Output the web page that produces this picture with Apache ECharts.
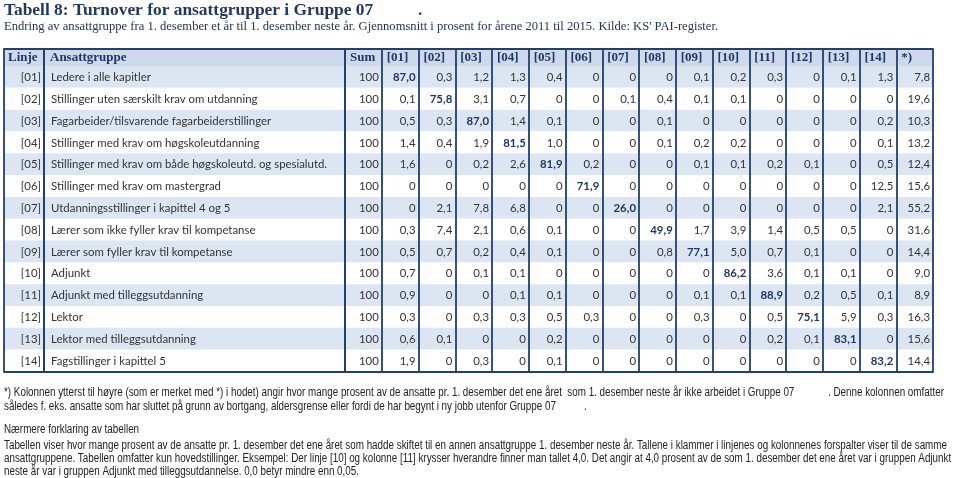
<!DOCTYPE html>
<html><head><meta charset="utf-8">
<script src="https://cdn.jsdelivr.net/npm/echarts@6/dist/echarts.min.js"></script>
<style>html,body{margin:0;padding:0;background:#fff}#c{width:960px;height:478px}</style>
</head><body><div id="c"></div>
<script>
// ---------- data ----------
const titleText = 'Tabell 8: Turnover for ansattgrupper i Gruppe 07';
const titleDot = '.';
const subtitleText = 'Endring av ansattgruppe fra 1. desember et år til 1. desember neste år. Gjennomsnitt i prosent for årene 2011 til 2015. Kilde: KS\' PAI-register.';
const headLinje = 'Linje';
const headGroup = 'Ansattgruppe';
const colHeaders = ['Sum', '[01]', '[02]', '[03]', '[04]', '[05]', '[06]', '[07]', '[08]', '[09]', '[10]', '[11]', '[12]', '[13]', '[14]', '*)'];
const lineCodes = ['[01]', '[02]', '[03]', '[04]', '[05]', '[06]', '[07]', '[08]', '[09]', '[10]', '[11]', '[12]', '[13]', '[14]'];
const groupNames = [
  'Ledere i alle kapitler',
  'Stillinger uten særskilt krav om utdanning',
  'Fagarbeider/tilsvarende fagarbeiderstillinger',
  'Stillinger med krav om høgskoleutdanning',
  'Stillinger med krav om både høgskoleutd. og spesialutd.',
  'Stillinger med krav om mastergrad',
  'Utdanningsstillinger i kapittel 4 og 5',
  'Lærer som ikke fyller krav til kompetanse',
  'Lærer som fyller krav til kompetanse',
  'Adjunkt',
  'Adjunkt med tilleggsutdanning',
  'Lektor',
  'Lektor med tilleggsutdanning',
  'Fagstillinger i kapittel 5'
];
// columns: Sum, [01]..[14], *)
const row01 = [100, 87.0, 0.3, 1.2, 1.3, 0.4, 0, 0, 0, 0.1, 0.2, 0.3, 0, 0.1, 1.3, 7.8];
const row02 = [100, 0.1, 75.8, 3.1, 0.7, 0, 0, 0.1, 0.4, 0.1, 0.1, 0, 0, 0, 0, 19.6];
const row03 = [100, 0.5, 0.3, 87.0, 1.4, 0.1, 0, 0, 0.1, 0, 0, 0, 0, 0, 0.2, 10.3];
const row04 = [100, 1.4, 0.4, 1.9, 81.5, 1.0, 0, 0, 0.1, 0.2, 0.2, 0, 0, 0, 0.1, 13.2];
const row05 = [100, 1.6, 0, 0.2, 2.6, 81.9, 0.2, 0, 0, 0.1, 0.1, 0.2, 0.1, 0, 0.5, 12.4];
const row06 = [100, 0, 0, 0, 0, 0, 71.9, 0, 0, 0, 0, 0, 0, 0, 12.5, 15.6];
const row07 = [100, 0, 2.1, 7.8, 6.8, 0, 0, 26.0, 0, 0, 0, 0, 0, 0, 2.1, 55.2];
const row08 = [100, 0.3, 7.4, 2.1, 0.6, 0.1, 0, 0, 49.9, 1.7, 3.9, 1.4, 0.5, 0.5, 0, 31.6];
const row09 = [100, 0.5, 0.7, 0.2, 0.4, 0.1, 0, 0, 0.8, 77.1, 5.0, 0.7, 0.1, 0, 0, 14.4];
const row10 = [100, 0.7, 0, 0.1, 0.1, 0, 0, 0, 0, 0, 86.2, 3.6, 0.1, 0.1, 0, 9.0];
const row11 = [100, 0.9, 0, 0, 0.1, 0.1, 0, 0, 0, 0.1, 0.1, 88.9, 0.2, 0.5, 0.1, 8.9];
const row12 = [100, 0.3, 0, 0.3, 0.3, 0.5, 0.3, 0, 0, 0.3, 0, 0.5, 75.1, 5.9, 0.3, 16.3];
const row13 = [100, 0.6, 0.1, 0, 0, 0.2, 0, 0, 0, 0, 0, 0.2, 0.1, 83.1, 0, 15.6];
const row14 = [100, 1.9, 0, 0.3, 0, 0.1, 0, 0, 0, 0, 0, 0, 0, 0, 83.2, 14.4];
const rowsData = [row01, row02, row03, row04, row05, row06, row07, row08, row09, row10, row11, row12, row13, row14];

const note1a = '*) Kolonnen ytterst til høyre (som er merket med *) i hodet) angir hvor mange prosent av de ansatte pr. 1. desember det ene året  som 1. desember neste år ikke arbeidet i Gruppe 07';
const note1b = '. Denne kolonnen omfatter';
const note2a = 'således f. eks. ansatte som har sluttet på grunn av bortgang, aldersgrense eller fordi de har begynt i ny jobb utenfor Gruppe 07';
const note2b = '.';
const note3 = 'Nærmere forklaring av tabellen';
const note4 = 'Tabellen viser hvor mange prosent av de ansatte pr. 1. desember det ene året som hadde skiftet til en annen ansattgruppe 1. desember neste år. Tallene i klammer i linjenes og kolonnenes forspalter viser til de samme';
const note5 = 'ansattgruppene. Tabellen omfatter kun hovedstillinger. Eksempel: Der linje [10] og kolonne [11] krysser hverandre finner man tallet 4,0. Det angir at 4,0 prosent av de som 1. desember det ene året var i gruppen Adjunkt';
const note6 = 'neste år var i gruppen Adjunkt med tilleggsutdannelse. 0,0 betyr mindre enn 0,05.';

// ---------- styles ----------
const NAVY = '#1f3864';
const LINE = '#22406b';
const HEAD_BG = '#cddaeb';
const STRIPE = '#dce6f2';
const BODY_TXT = '#333333';
const HEAD_FONT = 'bold 13px "Liberation Serif", serif';
const BODY_FONT = '11.4px Lato, sans-serif';
const BODY_BOLD = 'bold 11.4px Lato, sans-serif';
const NOTE_FONT = '12px "Liberation Sans", Arial, sans-serif';
const NOTE_SX = 0.82;

function fmt(v, col) {
  if (col === 0) return String(v);
  if (v === 0) return '0';
  return v.toFixed(1).replace('.', ',');
}

const X = [4, 44, 345, 933];
const HEAD_TOP = 49, HEAD_H = 17, BODY_TOP = 66, BODY_H = 305.5;

const grids = [];
for (let r = 0; r < 2; r++) {
  for (let c = 0; c < 3; c++) {
    grids.push({
      left: X[c], width: X[c + 1] - X[c],
      top: r === 0 ? HEAD_TOP : BODY_TOP,
      height: r === 0 ? HEAD_H : BODY_H,
      containLabel: false
    });
  }
}
const xCats = [[headLinje], [headGroup], colHeaders];
const xAxes = [], yAxes = [];
for (let g = 0; g < 6; g++) {
  const isHead = g < 3;
  xAxes.push({
    type: 'category', gridIndex: g, data: xCats[g % 3],
    position: isHead ? 'top' : 'bottom',
    axisLine: { show: true, lineStyle: { color: LINE, width: 1.8 } },
    axisTick: { show: false }, axisLabel: { show: false },
    splitLine: { show: true, lineStyle: { color: LINE, width: 1.8 } }
  });
  yAxes.push({
    type: 'category', gridIndex: g, inverse: true,
    data: isHead ? ['h'] : lineCodes,
    axisLine: { show: false }, axisTick: { show: false }, axisLabel: { show: false },
    splitLine: { show: false },
    splitArea: { show: true, areaStyle: { color: isHead ? [HEAD_BG, HEAD_BG] : [STRIPE, '#ffffff'] } }
  });
}

function textSeries(g, data, getText, align, pad, getFont, getFill) {
  return {
    type: 'custom', xAxisIndex: g, yAxisIndex: g, data: data, silent: true, z: 5,
    renderItem: function (params, api) {
      const xi = api.value(0), yi = api.value(1);
      const c = api.coord([xi, yi]);
      const s = api.size([1, 1]);
      let tx = c[0];
      if (align === 'right') tx = c[0] + s[0] / 2 - pad;
      else if (align === 'left') tx = c[0] - s[0] / 2 + pad;
      return {
        type: 'text',
        style: {
          x: tx, y: c[1] + 0.5, text: getText(xi, yi), align: align, verticalAlign: 'middle',
          font: getFont(xi, yi), fill: getFill(xi, yi)
        }
      };
    }
  };
}

const series = [];
series.push(textSeries(0, [[0, 0]], () => headLinje, 'left', 4, () => HEAD_FONT, () => NAVY));
series.push(textSeries(1, [[0, 0]], () => headGroup, 'left', 6, () => HEAD_FONT, () => NAVY));
series.push(textSeries(2, colHeaders.map((h, i) => [i, 0]), (x) => colHeaders[x], 'left', 5,
  () => HEAD_FONT, () => NAVY));
series.push(textSeries(3, lineCodes.map((h, i) => [0, i]), (x, y) => lineCodes[y], 'right', 3,
  () => BODY_FONT, () => BODY_TXT));
series.push(textSeries(4, groupNames.map((h, i) => [0, i]), (x, y) => groupNames[y], 'left', 7,
  () => BODY_FONT, () => BODY_TXT));
const cells = [];
rowsData.forEach((row, r) => row.forEach((v, c) => cells.push([c, r])));
series.push(textSeries(5, cells, (x, y) => fmt(rowsData[y][x], x), 'right', 3,
  (x, y) => (x === y + 1 ? BODY_BOLD : BODY_FONT),
  (x, y) => (x === y + 1 ? NAVY : BODY_TXT)));

function txt(x, y, text, font, fill, sx) {
  return { type: 'text', x: x, y: y, scaleX: sx || 1, silent: true,
    style: { text: text, font: font, fill: fill, verticalAlign: 'middle', align: 'left' } };
}
const graphic = [
  txt(4, 11, titleText, 'bold 17.4px "Liberation Serif", serif', NAVY),
  txt(418, 11, titleDot, 'bold 17.4px "Liberation Serif", serif', NAVY),
  txt(4, 27, subtitleText, '12.6px "Liberation Serif", serif', '#1c2f52'),
  txt(4, 393, note1a, NOTE_FONT, '#222', NOTE_SX),
  txt(828, 393, note1b, NOTE_FONT, '#222', NOTE_SX),
  txt(4, 407, note2a, NOTE_FONT, '#222', NOTE_SX),
  txt(584, 407, note2b, NOTE_FONT, '#222', NOTE_SX),
  txt(4, 430, note3, NOTE_FONT, '#222', NOTE_SX),
  txt(4, 446, note4, NOTE_FONT, '#222', NOTE_SX),
  txt(4, 459, note5, NOTE_FONT, '#222', NOTE_SX),
  txt(4, 472, note6, NOTE_FONT, '#222', NOTE_SX)
];

const chart = echarts.init(document.getElementById('c'), null, { renderer: 'canvas' });
chart.setOption({
  animation: false,
  backgroundColor: '#ffffff',
  grid: grids, xAxis: xAxes, yAxis: yAxes,
  series: series,
  graphic: graphic
});
</script>
</body></html>
